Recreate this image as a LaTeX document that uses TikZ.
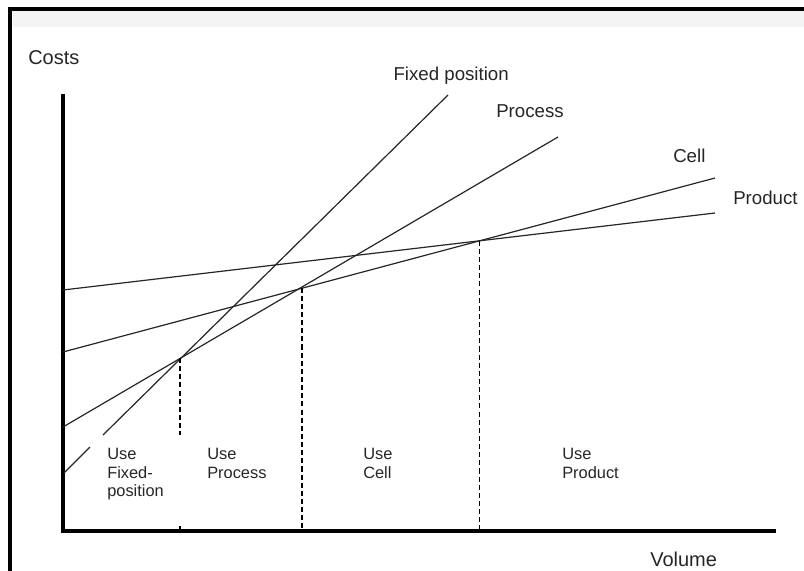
\documentclass[tikz,border=0pt]{standalone}
\usepackage{fontspec}
\setmainfont{Liberation Sans}
\definecolor{band}{HTML}{F4F4F4}
\begin{document}
\begin{tikzpicture}[x=0.75pt,y=-0.75pt,
  curve/.style={draw=black!85, line width=0.9pt},
  axis/.style={draw=black, line width=2.3pt},
  guide/.style={draw=black, line width=1.1pt, dash pattern=on 3.8pt off 2.3pt},
  lbl/.style={font=\fontsize{14}{16}\selectfont, inner sep=0pt, text=black!85},
  region/.style={font=\fontsize{12.3}{13.9}\selectfont, align=left, inner sep=0pt,
                 anchor=north west, text=black!85}]
\useasboundingbox (0,0) rectangle (804,571);
\fill[white] (0,0) rectangle (804,571);

% window frame and title band
\fill[band] (12.5,10.7) rectangle (804,26.7);
\fill[black] (8.3,6.7) rectangle (804,10.7);
\fill[black] (8.3,6.7) rectangle (12.3,571);

% axes
\coordinate (ytop) at (63,94);
\coordinate (O) at (63,531);
\coordinate (xend) at (776,531);
\draw[axis] (ytop) -- (O) -- (xend);

% cost lines
\coordinate (pr0) at (63,290);  \coordinate (pr1) at (715,213);
\coordinate (ce0) at (63,352);  \coordinate (ce1) at (715,178);
\coordinate (ps0) at (63,427);  \coordinate (ps1) at (558,137);
\coordinate (fx0) at (64,473);  \coordinate (fx1) at (90,447);
\coordinate (fx2) at (103,435); \coordinate (fx3) at (448,95);
\draw[curve] (pr0) -- (pr1);
\draw[curve] (ce0) -- (ce1);
\draw[curve] (ps0) -- (ps1);
\draw[curve] (fx0) -- (fx1);
\draw[curve] (fx2) -- (fx3);

% break-even points
\coordinate (b1) at (180,358);
\coordinate (b2) at (302,287.5);
\coordinate (b3) at (479.5,240.7);
\coordinate (b1end) at (180,435);
\coordinate (b1tick) at (180,526);
\draw[guide] (b1) -- (b1end);
\draw[guide] (b1tick) -- (b1 |- O);
\draw[guide] (b2) -- (b2 |- O);
\draw[guide] (b3) -- (b3 |- O);

% axis titles and line labels
\node[lbl, anchor=base west, font=\fontsize{15}{17}\selectfont] (costs) at (28,64) {Costs};
\node[lbl, anchor=base west, font=\fontsize{15}{17}\selectfont] (volume) at (650,566) {Volume};
\node[lbl, anchor=base east] (lfx) at (509,80) {Fixed position};
\node[lbl, anchor=base west] (lps) at (496,117) {Process};
\node[lbl, anchor=base west] (lce) at (673,162) {Cell};
\node[lbl, anchor=base west] (lpr) at (733,204) {Product};

% regions
\node[region] (r1) at (107,448) {Use\\Fixed-\\position};
\node[region] (r2) at (207,448) {Use\\Process};
\node[region] (r3) at (363,448) {Use\\Cell};
\node[region] (r4) at (562,448) {Use\\Product};
\end{tikzpicture}
\end{document}
